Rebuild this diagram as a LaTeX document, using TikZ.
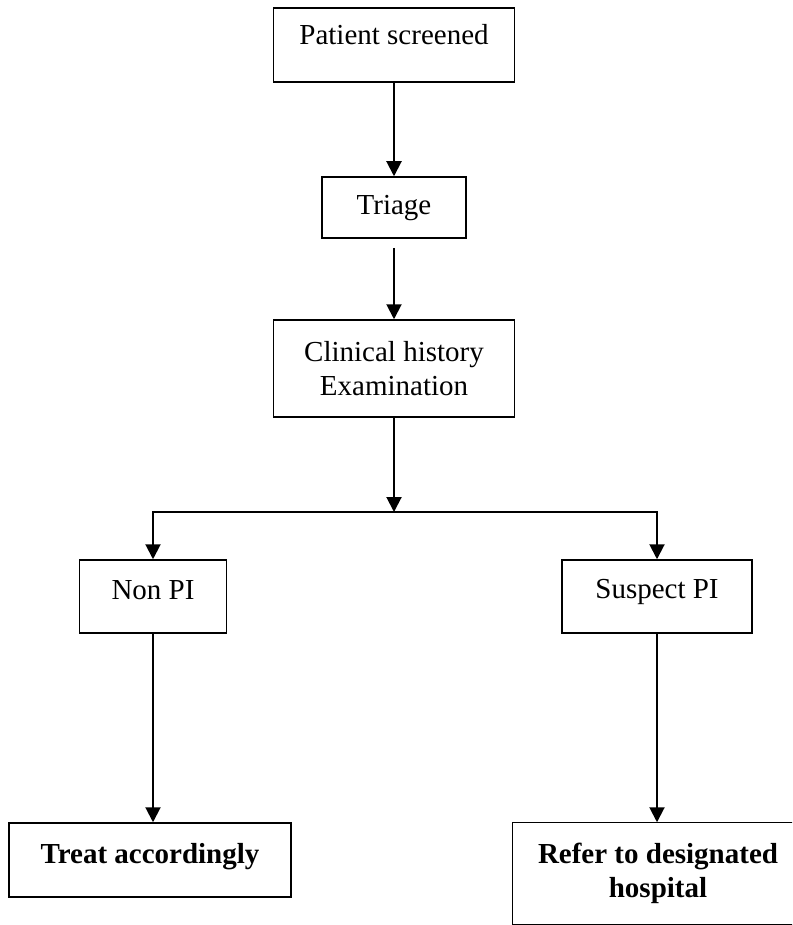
\documentclass[tikz,border=0pt]{standalone}
\usepackage{fontspec}
\setmainfont{Liberation Serif}
\usetikzlibrary{arrows.meta}
\begin{document}
\begin{tikzpicture}[x=1pt,y=-1pt,
  box/.style={draw, line width=1.5pt, inner sep=0pt, align=center,
    font=\fontsize{29}{34}\selectfont},
  oneline/.style={text height=20pt, text depth=6pt},
  boldtext/.style={font=\fontsize{29}{34}\selectfont\bfseries},
  flow/.style={line width=2pt, -{Triangle[width=15pt,length=15pt]}}]
\useasboundingbox (0,0) rectangle (792,925);
\clip (0,0) rectangle (792,925);

\node[box, oneline, text depth=20pt, minimum width=241pt, minimum height=74pt] (ps) at (394,45) {Patient screened};
\node[box, oneline, minimum width=144pt, minimum height=61pt] (tr) at (394,207.5) {Triage};
\node[box, minimum width=241pt, minimum height=97pt] (ch) at (394,368.5) {Clinical history\\Examination};
\node[box, oneline, text depth=15pt, minimum width=147pt, minimum height=73pt] (np) at (153,596.5) {Non PI};
\node[box, oneline, text depth=16pt, minimum width=190pt, minimum height=73pt] (sp) at (657,596.5) {Suspect PI};
\node[box, oneline, boldtext, text depth=14pt, minimum width=282pt, minimum height=74pt] (ta) at (150,860) {Treat accordingly};
\node[box, boldtext, draw=none, minimum width=290pt, minimum height=101pt] (rf) at (658,873.5) {Refer to designated\\hospital};
\draw[line width=1.5pt] ([xshift=20pt]rf.north east) -- (rf.north west) -- (rf.south west) -- ([xshift=20pt]rf.south east);

\coordinate (split) at (394,512);
\draw[flow] (ps.south) -- (tr.north);
\draw[flow, shorten <=9pt] (tr.south) -- (ch.north);
\draw[flow] (ch.south) -- (split);
\draw[flow] (split) -| (np.north);
\draw[flow] (split) -| (sp.north);
\draw[flow] (np.south) -- (np.south |- ta.north);
\draw[flow] (sp.south) -- (sp.south |- rf.north);
\end{tikzpicture}
\end{document}
